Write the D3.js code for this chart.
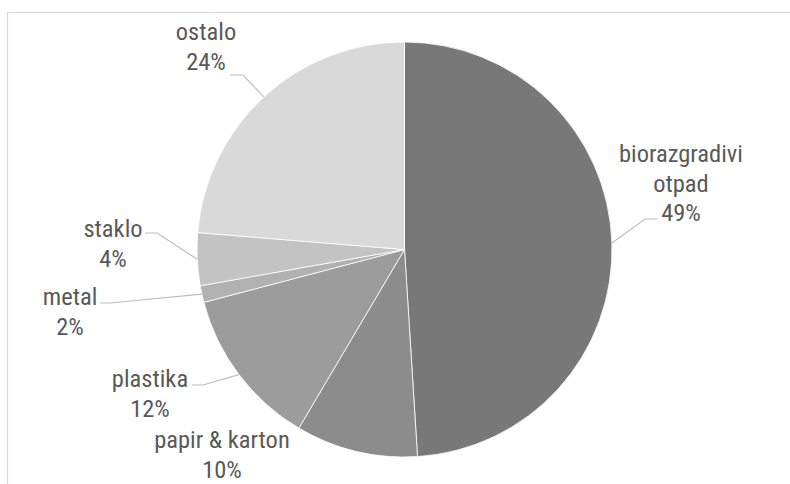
<!DOCTYPE html>
<html>
<head>
<meta charset="utf-8">
<script src="https://cdn.jsdelivr.net/npm/d3@7"></script>
<style>
  html, body { margin: 0; padding: 0; background: #ffffff; }
  svg { display: block; }
</style>
</head>
<body>
<svg id="chart" width="790" height="484"></svg>
<script>
// ---- data ----
const categories = ["biorazgradivi otpad", "papir & karton", "plastika", "metal", "staklo", "ostalo"];
const values = [49.0, 9.5, 12.4, 1.3, 4.1, 23.7];
const percentLabels = ["49%", "10%", "12%", "2%", "4%", "24%"];
const colors = ["#787878", "#8c8c8c", "#9c9c9c", "#b1b1b1", "#c3c3c3", "#d9d9d9"];

// ---- layout (label placement, leader knees) ----
const W = 790, H = 484;
const cx = 404.5, cy = 249.5, R = 207.5;
const labelLayout = [
  { lines: ["biorazgradivi", "otpad"], x: 681, y: 162, knee: [645, 219], end: [657, 219] },
  { lines: ["papir & karton"], x: 222, y: 448, knee: null, end: null },
  { lines: ["plastika"], x: 150, y: 387, knee: [203, 385], end: [192, 385] },
  { lines: ["metal"], x: 70, y: 305, knee: [110, 303], end: [100, 303] },
  { lines: ["staklo"], x: 113, y: 237, knee: [157, 233], end: [145, 233] },
  { lines: ["ostalo"], x: 206, y: 40, knee: [243, 75], end: [230, 75] }
];
const lineGap = 29.5;

const svg = d3.select("#chart");

// outer chart border
svg.append("rect")
  .attr("x", 7.5).attr("y", 12.5)
  .attr("width", W + 20).attr("height", H + 20)
  .attr("fill", "none").attr("stroke", "#d9d9d9").attr("stroke-width", 1.2);

const pie = d3.pie().sort(null).value(d => d)(values);
const arc = d3.arc().innerRadius(0).outerRadius(R);
const edgeArc = d3.arc().innerRadius(R).outerRadius(R);

const g = svg.append("g").attr("transform", `translate(${cx},${cy})`);

g.selectAll("path.slice")
  .data(pie)
  .join("path")
  .attr("class", "slice")
  .attr("d", arc)
  .attr("fill", (d, i) => colors[i])
  .attr("stroke", "#ffffff")
  .attr("stroke-width", 0.8);

// leader lines
pie.forEach((d, i) => {
  const L = labelLayout[i];
  if (!L.knee) return;
  const p = edgeArc.centroid(d);
  const pts = [[p[0] + cx, p[1] + cy], L.knee, L.end];
  svg.append("path")
    .attr("d", d3.line()(pts))
    .attr("fill", "none")
    .attr("stroke", "#bfbfbf")
    .attr("stroke-width", 1.2);
});

// labels
const font = "'Liberation Sans Narrow', 'Arial Narrow', 'Roboto Condensed', sans-serif";
pie.forEach((d, i) => {
  const L = labelLayout[i];
  const t = svg.append("text")
    .attr("x", L.x).attr("y", L.y)
    .attr("text-anchor", "middle")
    .attr("font-family", font)
    .attr("font-size", 24.5)
    .attr("fill", "#595959");
  const lines = L.lines.concat([percentLabels[i]]);
  lines.forEach((s, k) => {
    t.append("tspan").attr("x", L.x).attr("y", L.y + k * lineGap).text(s);
  });
});
</script>
</body>
</html>
